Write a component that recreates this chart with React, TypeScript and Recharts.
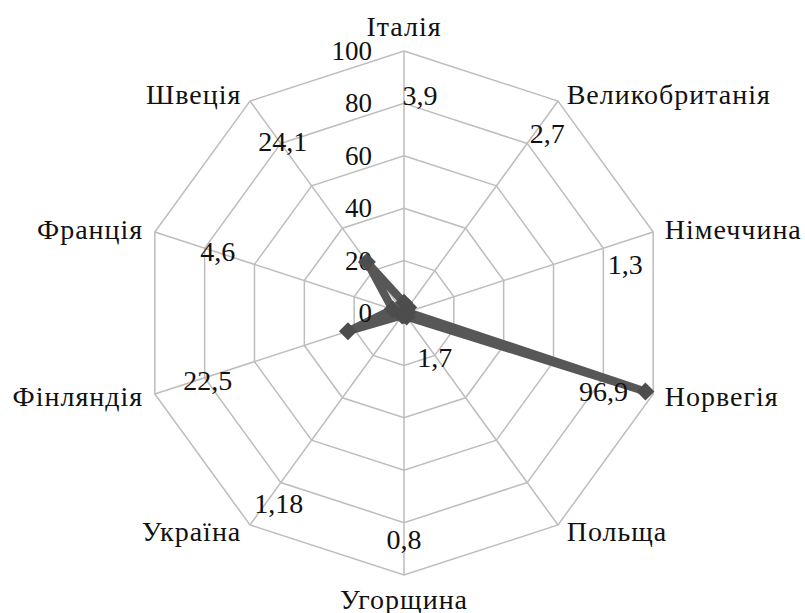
import React from 'react';
import { RadarChart, Radar, PolarGrid, PolarAngleAxis, PolarRadiusAxis } from 'recharts';

// країни по осях, за годинниковою стрілкою від верху
const countries = ['Італія', 'Великобританія', 'Німеччина', 'Норвегія', 'Польща', 'Угорщина', 'Україна', 'Фінляндія', 'Франція', 'Швеція'];
const shares = [3.9, 2.7, 1.3, 96.9, 1.7, 0.8, 1.18, 22.5, 4.6, 24.1];
const shareLabels = ['3,9', '2,7', '1,3', '96,9', '1,7', '0,8', '1,18', '22,5', '4,6', '24,1'];
const radiusTicks = [0, 20, 40, 60, 80, 100];

const data = countries.map((name, i) => ({ name, value: shares[i], label: shareLabels[i] }));

const CX = 404;
const CY = 313;
const OUTER = 262;
const FONT = 'Liberation Serif';
const LINE = '#575757';

// where Excel dropped each value label: ring (in axis units) + small nudge
const labelRing = [80, 80, 80, -1, 20, 80, 80, 80, 80, 80];
const labelNudge = [[16, -8], [20, -10], [22, 16], [-42, 0], [0, 2], [0, 17], [-2, 21], [3, 3], [13, 3], [2, -2]];

const AngleTick = (props: any) => {
    const { x, y, payload, textAnchor } = props;
    let dy = 0;
    let dx = 0;
    if (textAnchor === 'middle') dy = y < CY ? -17 : 16;
    else dx = textAnchor === 'start' ? 4 : -4;
    return (
        <text x={x + dx} y={y + dy} textAnchor={textAnchor} dominantBaseline="central"
            fontFamily={FONT} fontSize={28} letterSpacing={1} fill="#111">
            {payload.value}
        </text>
    );
};

const RadiusTick = (props: any) => {
    const { x, y, payload } = props;
    return (
        <text x={x - 32} y={y} textAnchor="end" dominantBaseline="central"
            fontFamily={FONT} fontSize={27} fill="#111">
            {payload.value}
        </text>
    );
};

const DiamondDot = (props: any) => {
    const { cx, cy, index } = props;
    if (cx == null || cy == null) return <g key={`d-${index}`} />;
    const s = 9;
    const ring = labelRing[index] < 0 ? shares[index] : labelRing[index];
    const ang = ((90 - index * 36) * Math.PI) / 180;
    const r = (OUTER * ring) / 100;
    const lx = CX + r * Math.cos(ang) + labelNudge[index][0];
    const ly = CY - r * Math.sin(ang) + labelNudge[index][1];
    return (
        <g key={`d-${index}`}>
            <polygon points={`${cx},${cy - s} ${cx + s},${cy} ${cx},${cy + s} ${cx - s},${cy}`} fill="#4d4d4d" />
            <text x={lx} y={ly} textAnchor="middle" dominantBaseline="central"
                fontFamily={FONT} fontSize={28} fill="#111">
                {shareLabels[index]}
            </text>
        </g>
    );
};

const App = () => {
    return (
        <div style={{ width: 805, height: 613 }}>
            <style>{'body{margin:0;background:#fff}'}</style>
            <RadarChart width={805} height={613} data={data} cx={CX} cy={CY} outerRadius={OUTER}
                startAngle={90} endAngle={-270}>
                <PolarGrid gridType="polygon" stroke="#bdbdbd" strokeWidth={1.5} />
                <PolarAngleAxis dataKey="name" tick={<AngleTick />} tickLine={false} axisLine={false} />
                <PolarRadiusAxis angle={90} domain={[0, 100]} ticks={radiusTicks as any} tickCount={6}
                    axisLine={false} tickLine={false} tick={<RadiusTick />} />
                <Radar dataKey="value" stroke={LINE} strokeWidth={8} strokeLinejoin="round" fill="none"
                    dot={<DiamondDot />} isAnimationActive={false} />
            </RadarChart>
        </div>
    );
};

export default App;
